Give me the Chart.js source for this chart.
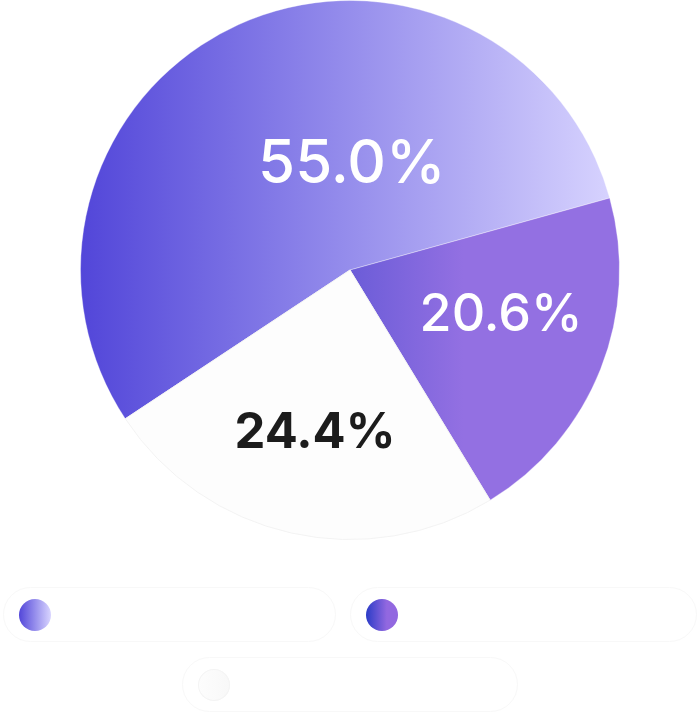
<!DOCTYPE html>
<html>
<head>
<meta charset="utf-8">
<title>Experience levels</title>
<script src="https://cdn.jsdelivr.net/npm/chart.js@4.4.1/dist/chart.umd.min.js"></script>
<style>
  html, body { margin: 0; padding: 0; background: #ffffff; }
  body { width: 700px; height: 718px; overflow: hidden; font-family: Inter, 'Noto Sans', sans-serif; }
  .chart-box { position: relative; width: 700px; height: 540px; }
  .legend {
    display: flex;
    flex-wrap: wrap;
    justify-content: center;
    gap: 15px 14px;
    margin: 47px 0 0;
    padding: 0;
    list-style: none;
  }
  .legend li {
    display: flex;
    align-items: center;
    height: 53px;
    padding: 0 16px 0 15px;
    border: 1px solid #f8f8f8;
    border-radius: 28px;
    color: #ffffff;
    font-size: 23px;
    font-weight: 400;
    white-space: nowrap;
  }
  .legend .dot {
    width: 32px;
    height: 32px;
    border-radius: 50%;
    margin-right: 18px;
    flex: none;
  }
</style>
</head>
<body>
<div class="chart-box"><canvas id="levels-chart"></canvas></div>
<ul class="legend" id="levels-legend"></ul>
<script>
// Experience level split
const categories = ['Senior (5yrs+)', 'Middle (3-4yrs)', 'Junior (1-2yrs)'];
const shares = [55.0, 20.6, 24.4];

// slice fills: [color, stop] pairs, stops are fractions of the pie width
const sliceStops = [
  [['#5246d9', 0], ['#d9d5ff', 1]],
  [['#2b3cc7', 0.16], ['#9370e2', 0.71]],
  [['#fdfdfd', 0], ['#fdfdfd', 1]]
];
const dotCss = [
  'linear-gradient(90deg, #5246d9, #d9d5ff)',
  'linear-gradient(90deg, #2b3cc7 0%, #9268e0 65%)',
  'linear-gradient(90deg, #fdfdfd, #f8f8f8)'
];
const labelColors = ['#ffffff', '#ffffff', '#1c1c1c'];
const labelFonts = ['500 60px Inter', '500 52px Inter', '700 49px Inter'];
// label placement: shift from the slice mid angle (deg), distance as share of radius
const labelShift = [25.5, -5, -0.5];
const labelDist = [0.39, 0.585, 0.62];

const pct = v => `${v.toFixed(1)}%`;

function sliceFill(context) {
  const stops = sliceStops[context.dataIndex] || sliceStops[0];
  const area = context.chart.chartArea;
  if (!area) return stops[0][0];
  const cx = (area.left + area.right) / 2;
  const r = Math.min(area.width, area.height) / 2;
  const g = context.chart.ctx.createLinearGradient(cx - r, 0, cx + r, 0);
  stops.forEach(([color, stop]) => g.addColorStop(stop, color));
  return g;
}

const sliceLabels = {
  id: 'sliceLabels',
  afterDatasetsDraw(chart) {
    const { ctx } = chart;
    const arcs = chart.getDatasetMeta(0).data;
    ctx.save();
    ctx.textAlign = 'center';
    ctx.textBaseline = 'middle';
    arcs.forEach((arc, i) => {
      const { x, y, startAngle, endAngle, outerRadius } = arc.getProps(['x', 'y', 'startAngle', 'endAngle', 'outerRadius'], true);
      const angle = (startAngle + endAngle) / 2 + labelShift[i] * Math.PI / 180;
      const dist = labelDist[i] * outerRadius;
      ctx.font = labelFonts[i];
      ctx.fillStyle = labelColors[i];
      ctx.fillText(pct(shares[i]), x + Math.cos(angle) * dist, y + Math.sin(angle) * dist);
    });
    ctx.restore();
  }
};

const htmlLegend = {
  id: 'htmlLegend',
  afterUpdate(chart) {
    const list = document.getElementById('levels-legend');
    list.innerHTML = '';
    chart.data.labels.forEach((label, i) => {
      const li = document.createElement('li');
      const dot = document.createElement('span');
      dot.className = 'dot';
      dot.style.background = dotCss[i];
      if (i === 2) dot.style.boxShadow = 'inset 0 0 0 1px #f4f4f4';
      const text = document.createElement('span');
      text.textContent = `${label} - ${pct(chart.data.datasets[0].data[i])}`;
      li.appendChild(dot);
      li.appendChild(text);
      list.appendChild(li);
    });
  }
};

new Chart(document.getElementById('levels-chart'), {
  type: 'pie',
  data: {
    labels: categories,
    datasets: [{
      data: shares,
      backgroundColor: sliceFill,
      borderColor: ['rgba(255,255,255,0.35)', 'rgba(255,255,255,0.35)', '#f3f3f3'],
      borderWidth: 1
    }]
  },
  options: {
    responsive: true,
    maintainAspectRatio: false,
    animation: false,
    rotation: 236.5,
    layout: { padding: 0 },
    plugins: {
      legend: { display: false },
      tooltip: { enabled: false }
    }
  },
  plugins: [sliceLabels, htmlLegend]
});
</script>
</body>
</html>
